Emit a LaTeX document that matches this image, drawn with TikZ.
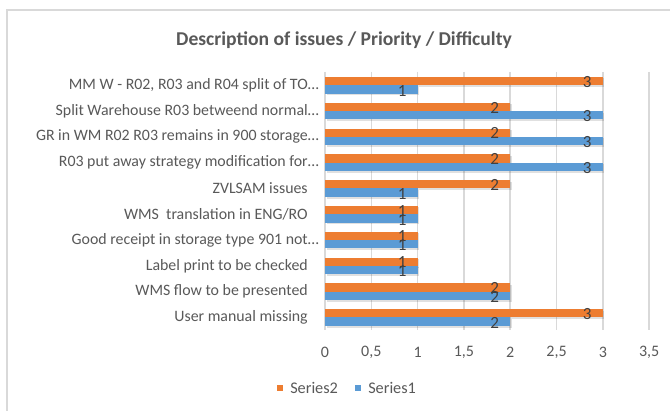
\documentclass[tikz,border=0pt]{standalone}
\usepackage{fontspec}
\setmainfont{Carlito}
\definecolor{orng}{HTML}{ED7D31}
\definecolor{blu}{HTML}{5B9BD5}
\definecolor{txtgray}{HTML}{595959}
\definecolor{gridgray}{HTML}{D9D9D9}
\definecolor{lblgray}{HTML}{404040}
\begin{document}
\begin{tikzpicture}[x=0.75pt,y=-0.75pt,
  catlabel/.style={anchor=east,inner sep=0pt,text=txtgray,font=\fontsize{11.9}{13}\selectfont},
  ticklabel/.style={anchor=center,inner sep=0pt,text=txtgray,font=\fontsize{12}{13}\selectfont},
  datalabel/.style={anchor=center,inner sep=0pt,text=lblgray,font=\fontsize{12.8}{14}\selectfont},
  gridline/.style={draw=gridgray,line width=1.1pt},
  barshadow/.style={fill=black,opacity=0.12},
  legtext/.style={anchor=west,inner sep=0pt,text=txtgray,font=\fontsize{12.2}{13}\selectfont}]
\useasboundingbox (0,0) rectangle (670,410);
\fill[white] (0,0) rectangle (670,410);
% chart frame
\draw[gridgray,line width=1.1pt] (7,412) -- (7,10) -- (672,10);
% title
\node[inner sep=0pt,text=txtgray,font=\fontsize{14.7}{16}\selectfont\bfseries] (title) at (344,40) {Description of issues / Priority / Difficulty};
% gridlines and tick labels
\foreach \k/\t in {0/0,1/{0,5},2/1,3/{1,5},4/2,5/{2,5},6/3,7/{3,5}}{
  \draw[gridline] (325+\k*46.3,72) -- (325+\k*46.3,330);
  \node[ticklabel] (tick\k) at (325+\k*46.3,352) {\t};
}
% bars: index / Series2 / Series1 / label x / label
\foreach \i/\a/\b/\lx/\lab in {
  0/3/1/319/{MM W - R02, R03 and R04 split of TO…},
  1/2/3/319/{Split Warehouse R03 betweend normal…},
  2/2/3/319/{GR in WM R02 R03 remains in 900 storage…},
  3/2/3/319/{R03 put away strategy modification for…},
  4/2/1/308/{ZVLSAM issues},
  5/1/1/308/{WMS\ \ translation in ENG/RO},
  6/1/1/319/{Good receipt in storage type 901 not…},
  7/1/1/308/{Label print to be checked},
  8/2/2/308/{WMS flow to be presented},
  9/3/2/308/{User manual missing}}{
  \pgfmathsetmacro{\cy}{72.3+25.8*(\i+0.5)}
  \pgfmathsetmacro{\xa}{325+\a*92.6}
  \pgfmathsetmacro{\xb}{325+\b*92.6}
  \fill[barshadow] (326.5,\cy-6.8) rectangle (\xa+1.5,\cy+1.8);
  \fill[barshadow] (326.5,\cy+1.5) rectangle (\xb+1.5,\cy+10.1);
  \fill[orng] (325,\cy-8.3) rectangle (\xa,\cy);
  \fill[blu] (325,\cy) rectangle (\xb,\cy+8.3);
  \node[datalabel] (s2lab\i) at (\xa-15.5,\cy-3.5) {\a};
  \node[datalabel] (s1lab\i) at (\xb-15.5,\cy+5.5) {\b};
  \node[catlabel] (cat\i) at (\lx,\cy) {\lab};
}
% legend
\fill[orng] (277,385) rectangle (283,391);
\node[legtext] (leg2) at (290,388) {Series2};
\fill[blu] (355,385) rectangle (361,391);
\node[legtext] (leg1) at (368,388) {Series1};
\end{tikzpicture}
\end{document}
